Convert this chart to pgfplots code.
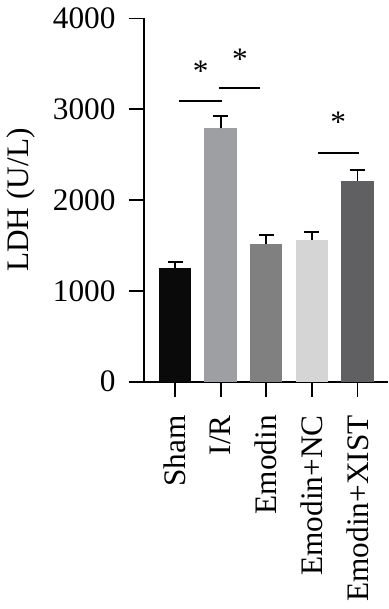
\documentclass[border=0pt]{standalone}
\usepackage{pgfplots}
\pgfplotsset{compat=1.18}
\usetikzlibrary{calc}
\usepackage{fontspec}
\setmainfont{Liberation Serif}
\definecolor{cSham}{HTML}{0A0A0A}
\definecolor{cIR}{HTML}{9E9FA3}
\definecolor{cEm}{HTML}{808080}
\definecolor{cNC}{HTML}{D5D5D5}
\definecolor{cXI}{HTML}{606062}
\begin{document}
\begin{tikzpicture}
\begin{axis}[name=ax, scale only axis, width=244pt, height=363.2pt,
  xmin=-0.68, xmax=4.67, ymin=0, ymax=4000,
  axis x line=bottom, axis y line=left,
  axis line style={line width=1.8pt, -},
  ytick={0,1000,2000,3000,4000},
  xtick={0,1,2,3,4},
  xticklabels={Sham,I/R,Emodin,Emodin+NC,Emodin+XIST},
  x tick label style={rotate=90, anchor=east, xshift=-15pt},
  y tick label style={xshift=-10pt},
  tick style={line width=1.8pt, black},
  major tick length=15pt, tick align=outside,
  font=\fontsize{31.3}{36}\selectfont,
  /pgf/number format/assume math mode=true,
  /pgf/number format/1000 sep={},
  ylabel={LDH (U/L)},
  y label style={at={(axis description cs:0,0.5)}, anchor=north, inner sep=0pt, yshift=137pt},
  ybar, bar width=32.5pt, bar shift=0pt,
  clip=false,
  error bars/y dir=plus, error bars/y explicit,
  error bars/error bar style={line width=1.8pt, black},
  error bars/error mark options={line width=1.8pt, mark size=7.5pt, black, rotate=90},
]
\addplot[fill=cSham, draw=none, bar shift=0pt] coordinates {(0,1255) +- (0,66)};
\addplot[fill=cIR, draw=none, bar shift=0pt] coordinates {(1,2790) +- (0,136)};
\addplot[fill=cEm, draw=none, bar shift=0pt] coordinates {(2,1520) +- (0,95)};
\addplot[fill=cNC, draw=none, bar shift=0pt] coordinates {(3,1564) +- (0,81)};
\addplot[fill=cXI, draw=none, bar shift=0pt] coordinates {(4,2214) +- (0,117)};
\draw[line width=1.7pt] (axis cs:0.094,3091) -- (axis cs:1.024,3091);
\draw[line width=1.7pt] (axis cs:0.965,3231) -- (axis cs:1.864,3231);
\draw[line width=1.7pt] (axis cs:3.14,2522) -- (axis cs:4.04,2522);
\node[anchor=base, inner sep=0pt] at (axis cs:0.564,3303) {*};
\node[anchor=base, inner sep=0pt] at (axis cs:1.425,3438) {*};
\node[anchor=base, inner sep=0pt] at (axis cs:3.58,2744) {*};
\end{axis}
\pgfresetboundingbox
\path[use as bounding box] ($(ax.south west)+(-144pt,-227.3pt)$) rectangle ($(ax.north east)+(1pt,18.5pt)$);
\end{tikzpicture}
\end{document}
